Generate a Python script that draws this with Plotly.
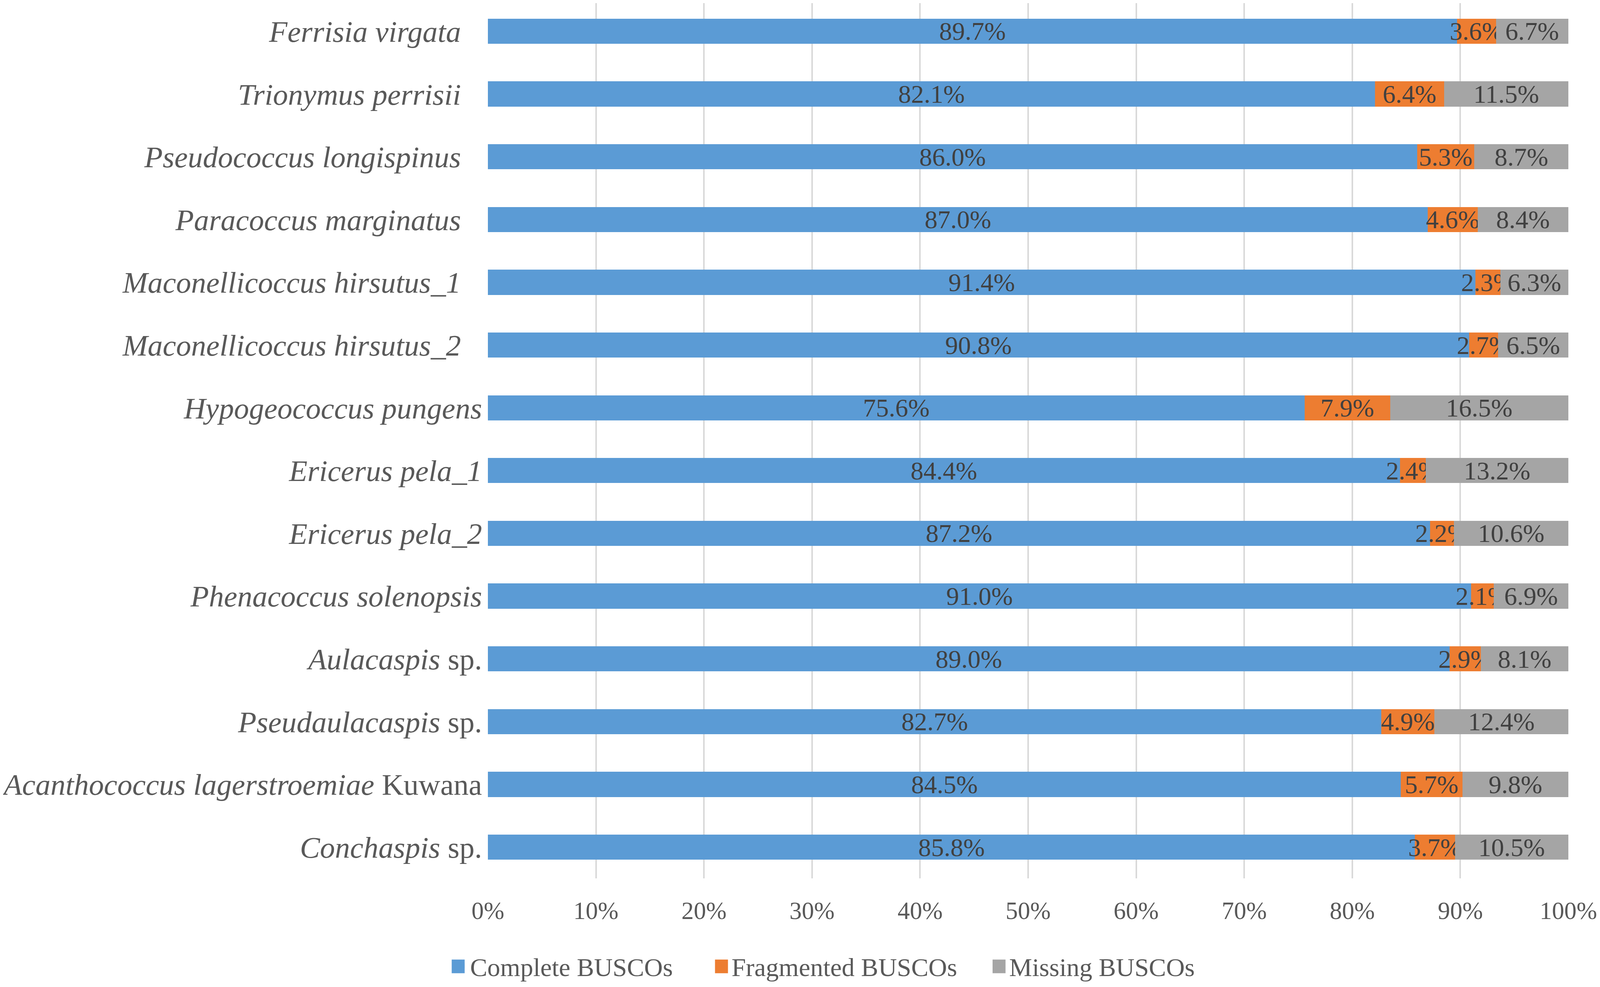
import plotly.graph_objects as go

species_italic = [
    "Ferrisia virgata", "Trionymus perrisii", "Pseudococcus longispinus",
    "Paracoccus marginatus", "Maconellicoccus hirsutus_1", "Maconellicoccus hirsutus_2",
    "Hypogeococcus pungens", "Ericerus pela_1", "Ericerus pela_2",
    "Phenacoccus solenopsis", "Aulacaspis", "Pseudaulacaspis",
    "Acanthococcus lagerstroemiae", "Conchaspis",
]
species_suffix = ["", "", "", "", "", "", "", "", "", "", " sp.", " sp.", " Kuwana", " sp."]
has_trailing_space = [True, True, True, True, True, True, False, False, False, False, False, False, False, False]

complete = [89.7, 82.1, 86.0, 87.0, 91.4, 90.8, 75.6, 84.4, 87.2, 91.0, 89.0, 82.7, 84.5, 85.8]
fragmented = [3.6, 6.4, 5.3, 4.6, 2.3, 2.7, 7.9, 2.4, 2.2, 2.1, 2.9, 4.9, 5.7, 3.7]
missing = [6.7, 11.5, 8.7, 8.4, 6.3, 6.5, 16.5, 13.2, 10.6, 6.9, 8.1, 12.4, 9.8, 10.5]

x_ticks = [0, 10, 20, 30, 40, 50, 60, 70, 80, 90, 100]
x_ticktext = [f"{v}%" for v in x_ticks]

series_names = ["Complete BUSCOs", "Fragmented BUSCOs", "Missing BUSCOs"]
series_values = [complete, fragmented, missing]
series_colors = ["#5B9BD5", "#ED7D31", "#A5A5A5"]

cats = list(range(len(species_italic)))
ticktext = [
    f"<i>{n}</i>{s}" + ("\u00a0\u00a0\u2009" if pad else "")
    for n, s, pad in zip(species_italic, species_suffix, has_trailing_space)
]

FONT = "Liberation Serif"

fig = go.Figure()
for name, vals, color in zip(series_names, series_values, series_colors):
    fig.add_trace(go.Bar(
        name=name,
        y=cats,
        x=vals,
        orientation="h",
        marker=dict(color=color, line=dict(width=0)),
        text=[f"{v:.1f}%" for v in vals],
        textposition="inside",
        insidetextanchor="middle",
        textangle=0,
        constraintext="none",
        textfont=dict(family=FONT, size=66, color="#404040"),
        hoverinfo="skip",
        showlegend=False,
    ))

# legend entries: one legend per series so spacing matches the original;
# the coloured squares are drawn as paper shapes (plotly caps legend marker size)
legend_ids = ["legend", "legend2", "legend3"]
legend_x = [-0.0309, 0.211, 0.468]
legend_y = -0.1000
square_cx = [-0.0275, 0.2162, 0.4731]
square_cy = -0.1006
square_hw = 0.0060
square_hh = 0.0078
for name, color, lid, cx in zip(series_names, series_colors, legend_ids, square_cx):
    fig.add_trace(go.Scatter(
        x=[None], y=[None], mode="markers", name=name,
        marker=dict(symbol="square", size=12, color=color, opacity=0),
        legend=lid, showlegend=True, hoverinfo="skip",
    ))
    fig.add_shape(
        type="rect", xref="paper", yref="paper",
        x0=cx - square_hw, x1=cx + square_hw,
        y0=square_cy - square_hh, y1=square_cy + square_hh,
        fillcolor=color, line=dict(width=0), layer="above",
    )

legend_common = dict(
    orientation="h",
    yanchor="middle",
    y=legend_y,
    xanchor="left",
    font=dict(family=FONT, size=66, color="#595959"),
    itemwidth=30,
    bgcolor="rgba(0,0,0,0)",
    borderwidth=0,
)

fig.update_layout(
    barmode="stack",
    bargap=0.6,
    width=4080,
    height=2510,
    paper_bgcolor="white",
    plot_bgcolor="white",
    margin=dict(l=1241, r=73, t=0, b=270, autoexpand=False),
    font=dict(family=FONT, color="#595959"),
    legend=dict(x=legend_x[0], **legend_common),
    legend2=dict(x=legend_x[1], **legend_common),
    legend3=dict(x=legend_x[2], **legend_common),
)

fig.update_xaxes(
    range=[0, 100],
    tickvals=x_ticks,
    ticktext=x_ticktext,
    tickfont=dict(family=FONT, size=63, color="#595959"),
    ticklabeloverflow="allow",
    showgrid=True,
    gridcolor="#D9D9D9",
    gridwidth=4,
    zeroline=False,
    showline=False,
    ticks="",
    ticklabelstandoff=40,
)

fig.update_yaxes(
    tickvals=cats,
    ticktext=ticktext,
    range=[13.498, -0.448],
    tickfont=dict(family=FONT, size=77, color="#595959"),
    showgrid=False,
    zeroline=False,
    showline=False,
    ticks="",
    ticklabelstandoff=14,
)

fig.write_html("out.html")
